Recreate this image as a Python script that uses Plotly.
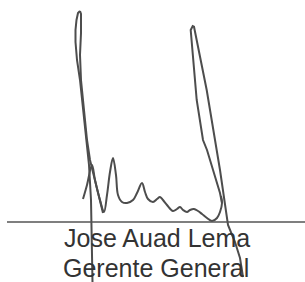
import plotly.graph_objects as go

# Signature strokes (pixel-space coordinates)
loop_left_x = [80, 78, 76.5, 75.5, 75.5, 77, 80, 83, 86, 89, 91, 92, 92.5]
loop_left_y = [11, 13, 20, 30, 42, 60, 80, 110, 140, 165, 200, 240, 282]

loop_right_x = [80, 81, 81, 80, 81, 84, 87, 90, 95, 100, 103]
loop_right_y = [11, 14, 33, 55, 80, 110, 140, 160, 180, 200, 213]

wave_x = [83, 87, 92, 95, 100, 104, 107, 110, 113, 116, 118, 122, 127, 133, 137, 142,
          145, 148, 153, 157, 160, 163, 167, 173, 177, 180, 183, 187, 190, 194, 198,
          202, 207, 212, 217, 220, 222, 221]
wave_y = [199, 185, 165, 180, 200, 212, 195, 172, 158, 175, 195, 202, 203, 200, 193, 183,
          192, 199, 202, 199, 197, 200, 205, 211, 209, 207, 210, 212, 210, 209, 211,
          214, 218, 221, 218, 212, 203, 196]

right_x = [222, 220, 207, 203, 196.7, 191, 190.7, 192.7, 194, 206.7, 215, 220, 228, 235, 240, 243]
right_y = [203, 193, 150, 140, 100, 40, 30, 26, 26.7, 90, 140, 170, 225, 242, 258, 277]

rule_x = [7, 305]
rule_y = [222, 222]

name_lines = ["Jose Auad Lema", "Gerente General"]
name_x = [157, 155.5]
name_y = [238, 267.5]

ink = "#4d4d4d"

fig = go.Figure()
for xs, ys, shp in [(loop_left_x, loop_left_y, "linear"), (loop_right_x, loop_right_y, "linear"),
                    (wave_x, wave_y, "spline"), (right_x, right_y, "linear")]:
    fig.add_trace(go.Scatter(x=xs, y=ys, mode="lines",
                             line=dict(color=ink, width=2, shape=shp),
                             hoverinfo="skip", showlegend=False))
fig.add_trace(go.Scatter(x=rule_x, y=rule_y, mode="lines",
                         line=dict(color="#555555", width=1.5),
                         hoverinfo="skip", showlegend=False))

for t, x, y in zip(name_lines, name_x, name_y):
    fig.add_annotation(x=x, y=y, xref="x", yref="y", text=t, showarrow=False,
                       xanchor="center", yanchor="middle",
                       font=dict(family="Liberation Sans, Arial", size=25, color="#333333"))

fig.update_layout(width=305, height=282, margin=dict(l=0, r=0, t=0, b=0),
                  paper_bgcolor="white", plot_bgcolor="white",
                  xaxis=dict(range=[0, 305], visible=False, fixedrange=True),
                  yaxis=dict(range=[282, 0], visible=False, fixedrange=True),
                  showlegend=False)

fig.write_html("out.html", config={"displayModeBar": False},
               post_script="document.body.style.margin='0';document.body.style.overflow='hidden';")
